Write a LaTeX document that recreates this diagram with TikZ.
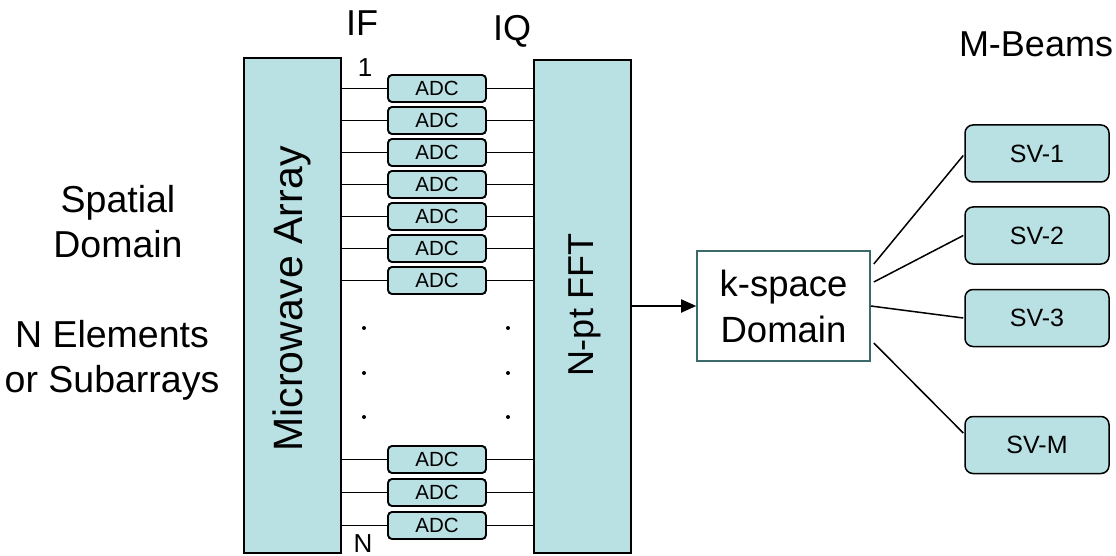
\documentclass[tikz,border=0pt]{standalone}
\usepackage{fontspec}
\setmainfont{Liberation Sans}
\usetikzlibrary{calc,arrows.meta}
\definecolor{boxfill}{RGB}{185,224,226}
\definecolor{kedge}{RGB}{60,105,105}
\begin{document}
\begin{tikzpicture}[x=1pt,y=-1pt,
  bigbox/.style={draw=black, line width=2pt, fill=boxfill, inner sep=0pt},
  adcbox/.style={draw=black, line width=1.9pt, fill=boxfill, rounded corners=4pt,
     minimum width=98pt, minimum height=27pt, inner sep=0pt, font=\fontsize{20.5}{20.5}\selectfont},
  svbox/.style={draw=black, line width=1.5pt, fill=boxfill, rounded corners=8pt,
     minimum width=144pt, minimum height=57pt, inner sep=0pt, font=\fontsize{25}{25}\selectfont},
  kbox/.style={draw=kedge, line width=1.6pt, fill=white, minimum width=173pt,
     minimum height=110pt, inner sep=0pt, align=center, font=\fontsize{36.5}{46}\selectfont},
  wire/.style={line width=1.8pt},
  fan/.style={line width=1.5pt},
  lbl/.style={font=\fontsize{37.5}{45}\selectfont, align=center, inner sep=0pt},
  small/.style={font=\fontsize{26}{26}\selectfont, inner sep=0pt},
  dotmark/.style={circle, fill=black, inner sep=0pt, minimum size=4pt}
]
\useasboundingbox (0,0) rectangle (1116,556);
\fill[white] (0,0) rectangle (1116,556);

% big boxes
\node[bigbox, minimum width=97pt, minimum height=495pt] (arr) at (292.5,305.5) {};
\node[bigbox, minimum width=97pt, minimum height=493pt] (fft) at (582.5,306.5) {};
\node[rotate=90, font=\fontsize{41}{41}\selectfont, inner sep=0pt] (arrlbl) at (292,299) {Microwave Array};
\node[rotate=90, font=\fontsize{36}{36}\selectfont, inner sep=0pt] (fftlbl) at (585,305) {N-pt FFT};

% ADCs
\foreach \i/\y in {1/88.5,2/120.5,3/152.5,4/184.5,5/216.5,6/248.5,7/280.5,8/459.5,9/492.5,10/525.5}{
  \node[adcbox] (adc\i) at (437,\y) {ADC};
  \draw[wire] (arr.east |- adc\i.west) -- (adc\i.west);
  \draw[wire] (adc\i.east) -- (fft.west |- adc\i.east);
}

% dots
\foreach \i/\y in {1/328,2/373,3/417}{
  \node[dotmark] (dl\i) at (364,\y) {};
  \node[dotmark] (dr\i) at (508,\y) {};
}

% labels
\node[font=\fontsize{36}{36}\selectfont, anchor=base, inner sep=0pt] (iflbl) at (362,36) {IF};
\node[font=\fontsize{36}{36}\selectfont, anchor=base, inner sep=0pt] (iqlbl) at (512,41) {IQ};
\node[small, anchor=base] (onelbl) at (365,77) {1};
\node[small, anchor=base] (nlbl) at (363,552) {N};
\node[lbl, anchor=base] (spat) at (118,257) {Spatial\\Domain};
\node[lbl, anchor=base] (nel) at (112,392) {N Elements\\or Subarrays};
\node[font=\fontsize{36}{36}\selectfont, anchor=base, inner sep=0pt] (mb) at (1036,57) {M-Beams};

% k-space
\node[kbox] (ksp) at (783.5,306) {k-space\\Domain};
\draw[wire, -{Triangle[length=15pt,width=13pt]}] (fft.east |- ksp.west) -- (ksp.west);

% SV boxes
\node[svbox] (sv1) at (1037,153.5) {SV-1};
\node[svbox] (sv2) at (1037,235.5) {SV-2};
\node[svbox] (sv3) at (1037,318) {SV-3};
\node[svbox] (svm) at (1037,445) {SV-M};

\draw[fan] ($(ksp.east)+(3,-42)$) -- ($(sv1.west)+(-1,2)$);
\draw[fan] ($(ksp.east)+(3,-24)$) -- ($(sv2.west)+(-1,0)$);
\draw[fan] ($(ksp.east)+(0,0)$) -- ($(sv3.west)+(-1,0)$);
\draw[fan] ($(ksp.east)+(3,37)$) -- ($(svm.west)+(-1,-12)$);
\end{tikzpicture}
\end{document}
